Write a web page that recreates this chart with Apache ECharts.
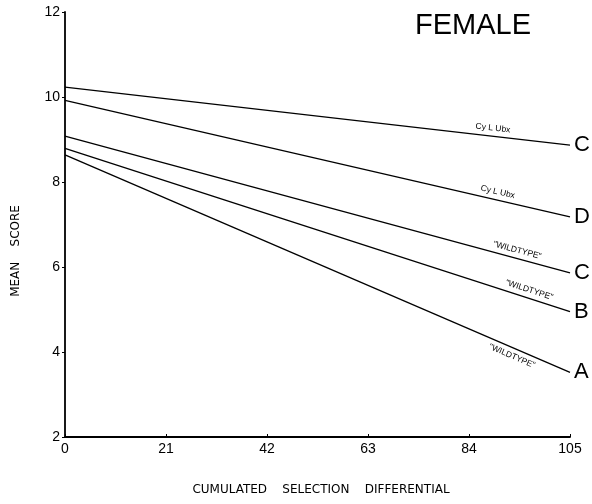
<!DOCTYPE html>
<html>
<head>
<meta charset="utf-8">
<script src="https://cdn.jsdelivr.net/npm/echarts@6/dist/echarts.min.js"></script>
<style>html,body{margin:0;padding:0;background:#fff}#c{width:592px;height:504px}</style>
</head>
<body>
<div id="c"></div>
<script>
// ---- data ----
const xTicks = [0, 21, 42, 63, 84, 105];
const yTicks = [2, 4, 6, 8, 10, 12];
const xStart = 0;
const xEnd = 105;
const startValues = [10.23, 9.92, 9.08, 8.79, 8.64];
const endValues = [8.87, 7.18, 5.86, 4.95, 3.52];
const endLetters = ['C', 'D', 'C', 'B', 'A'];
const lineLabels = ['Cy L Ubx', 'Cy L Ubx', '"WILDTYPE"', '"WILDTYPE"', '"WILDTYPE"'];
const labelX = [88.8, 89.6, 93.6, 96, 93.6];
const labelSide = [1, 1, 1, 1, -1];
const title = 'FEMALE';
const xName = 'CUMULATED    SELECTION    DIFFERENTIAL';
const yName = 'MEAN    SCORE';

const chart = echarts.init(document.getElementById('c'));
const FONT = '"Liberation Sans", Arial, sans-serif';
const FONT2 = '"DejaVu Sans", sans-serif';

const series = startValues.map((s, i) => ({
  type: 'line',
  data: [[xStart, s], [xEnd, endValues[i]]],
  symbol: 'none',
  lineStyle: { color: '#000', width: 1.3 },
  silent: true,
  endLabel: {
    show: true,
    formatter: () => endLetters[i],
    color: '#000',
    fontFamily: FONT,
    fontSize: 22,
    distance: 4
  }
}));

chart.setOption({
  animation: false,
  backgroundColor: '#fff',
  grid: { left: 65, right: 22, top: 12, bottom: 67 },
  xAxis: {
    type: 'value', min: xTicks[0], max: xTicks[xTicks.length - 1], interval: 21,
    axisLine: { show: true, lineStyle: { color: '#000', width: 1.8 } },
    axisTick: { show: true, inside: true, length: 3, lineStyle: { color: '#000' } },
    axisLabel: { color: '#000', fontFamily: FONT, fontSize: 14, margin: 5 },
    splitLine: { show: false }
  },
  yAxis: {
    type: 'value', min: yTicks[0], max: yTicks[yTicks.length - 1], interval: 2,
    axisLine: { show: true, lineStyle: { color: '#000', width: 1.8 } },
    axisTick: { show: true, length: 3, lineStyle: { color: '#000' } },
    axisLabel: { color: '#000', fontFamily: FONT, fontSize: 14, margin: 5 },
    splitLine: { show: false }
  },
  series: series
});

// annotations placed through the library's own coordinate conversion
const graphics = [];
startValues.forEach((s, i) => {
  const p0 = chart.convertToPixel({ gridIndex: 0 }, [xStart, s]);
  const p1 = chart.convertToPixel({ gridIndex: 0 }, [xEnd, endValues[i]]);
  const dx = p1[0] - p0[0], dy = p1[1] - p0[1];
  const len = Math.sqrt(dx * dx + dy * dy);
  const t = (labelX[i] - xStart) / (xEnd - xStart);
  const px = p0[0] + dx * t, py = p0[1] + dy * t;
  const nx = dy / len, ny = -dx / len;
  const off = 8;
  const cx = px + nx * off * labelSide[i], cy = py + ny * off * labelSide[i];
  graphics.push({
    type: 'text', x: cx, y: cy, rotation: -Math.atan2(dy, dx),
    style: { text: lineLabels[i], fill: '#000', font: '8.5px ' + FONT, textAlign: 'center', textVerticalAlign: 'middle' },
    silent: true
  });
});
graphics.push({
  type: 'text', left: 415, top: 11,
  style: { text: title, fill: '#000', font: '29px ' + FONT }
});
graphics.push({
  type: 'text', x: 321, y: 490,
  style: { text: xName, fill: '#000', font: '12px ' + FONT2, textAlign: 'center', textVerticalAlign: 'middle' }
});
graphics.push({
  type: 'text', x: 16, y: 251, rotation: Math.PI / 2,
  style: { text: yName, fill: '#000', font: '12px ' + FONT2, textAlign: 'center', textVerticalAlign: 'middle' }
});
chart.setOption({ graphic: graphics });
</script>
</body>
</html>
